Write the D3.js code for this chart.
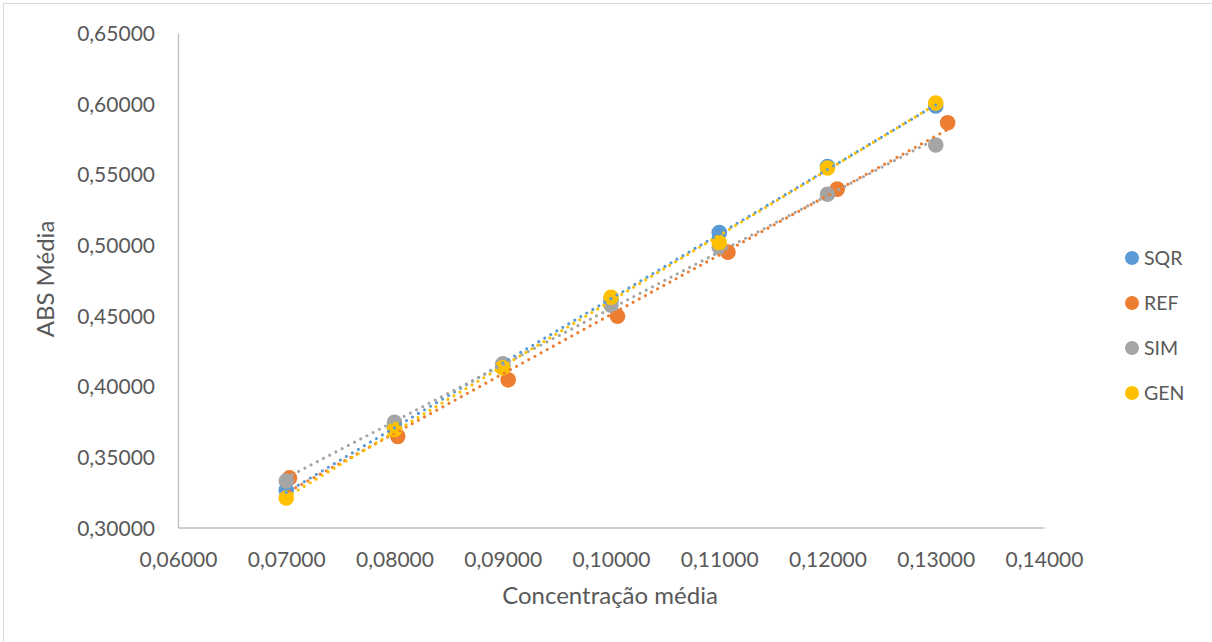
<!DOCTYPE html>
<html>
<head>
<meta charset="utf-8">
<script src="https://cdn.jsdelivr.net/npm/d3@7"></script>
<style>
  html, body { margin: 0; padding: 0; background: #fff; }
  svg { display: block; }
  text { font-family: Lato, "Open Sans", sans-serif; fill: #595959; }
</style>
</head>
<body>
<svg id="chart" width="1212" height="642"></svg>
<script>
const seriesNames = ["SQR", "REF", "SIM", "GEN"];
const seriesColors = ["#5B9BD5", "#ED7D31", "#A5A5A5", "#FFC000"];
const xSQR = [0.07, 0.08, 0.09, 0.10, 0.11, 0.12, 0.13];
const ySQR = [0.3266, 0.3705, 0.4140, 0.4605, 0.5087, 0.5555, 0.5983];
const xREF = [0.0703, 0.0803, 0.0905, 0.1006, 0.1108, 0.1209, 0.1311];
const yREF = [0.3351, 0.3645, 0.4045, 0.4495, 0.4949, 0.5395, 0.5865];
const xSIM = [0.07, 0.08, 0.09, 0.10, 0.11, 0.12, 0.13];
const ySIM = [0.3329, 0.3744, 0.4158, 0.4573, 0.4984, 0.5359, 0.5707];
const xGEN = [0.07, 0.08, 0.09, 0.10, 0.11, 0.12, 0.13];
const yGEN = [0.3209, 0.3694, 0.4130, 0.4630, 0.5016, 0.5544, 0.6004];
const xTicks = [0.06, 0.07, 0.08, 0.09, 0.10, 0.11, 0.12, 0.13, 0.14];
const yTicks = [0.30, 0.35, 0.40, 0.45, 0.50, 0.55, 0.60, 0.65];
const xTitle = "Concentração média";
const yTitle = "ABS Média";

const series = [
  { name: seriesNames[0], color: seriesColors[0], xs: xSQR, ys: ySQR },
  { name: seriesNames[1], color: seriesColors[1], xs: xREF, ys: yREF },
  { name: seriesNames[2], color: seriesColors[2], xs: xSIM, ys: ySIM },
  { name: seriesNames[3], color: seriesColors[3], xs: xGEN, ys: yGEN }
];

const svg = d3.select("#chart");
const fmt = v => d3.format(".5f")(v).replace(".", ",");

// outer border
svg.append("rect").attr("x", 3.5).attr("y", 3.5).attr("width", 1220).attr("height", 650)
  .attr("fill", "#fff").attr("stroke", "#D9D9D9").attr("stroke-width", 1);

const x = d3.scaleLinear().domain([0.06, 0.14]).range([178, 1044]);
const y = d3.scaleLinear().domain([0.30, 0.65]).range([527.5, 33]);

// axes
const xAxis = svg.append("g").attr("transform", "translate(0,527.5)")
  .call(d3.axisBottom(x).tickValues(xTicks).tickSize(0).tickFormat(fmt));
xAxis.select(".domain").attr("stroke", "#BFBFBF").attr("stroke-width", 1.3);
xAxis.selectAll("text").attr("dy", null).attr("y", 39.5).attr("font-size", "21px")
  .style("font-family", "Lato").attr("fill", "#595959");

const yAxis = svg.append("g").attr("transform", "translate(178,0)")
  .call(d3.axisLeft(y).tickValues(yTicks).tickSize(0).tickFormat(fmt));
yAxis.select(".domain").attr("stroke", "#BFBFBF").attr("stroke-width", 1.3);
yAxis.selectAll("text").attr("x", -23).attr("dy", "0.36em").attr("font-size", "21px")
  .style("font-family", "Lato").attr("fill", "#595959");

// markers
series.forEach(s => {
  svg.append("g").selectAll("circle")
    .data(s.xs.map((v, i) => [v, s.ys[i]]))
    .join("circle")
    .attr("cx", d => x(d[0]))
    .attr("cy", d => y(d[1]))
    .attr("r", 7.8)
    .attr("fill", s.color);
});

// linear trendlines
series.forEach(s => {
  const n = s.xs.length;
  const mx = d3.mean(s.xs), my = d3.mean(s.ys);
  let sxy = 0, sxx = 0;
  for (let i = 0; i < n; i++) { sxy += (s.xs[i] - mx) * (s.ys[i] - my); sxx += (s.xs[i] - mx) ** 2; }
  const b = sxy / sxx, a = my - b * mx;
  const x0 = d3.min(s.xs), x1 = d3.max(s.xs);
  svg.append("line")
    .attr("x1", x(x0)).attr("y1", y(a + b * x0))
    .attr("x2", x(x1)).attr("y2", y(a + b * x1))
    .attr("stroke", s.color).attr("stroke-width", 3.2)
    .attr("stroke-linecap", "round").attr("stroke-dasharray", "0 7");
});

// axis titles
svg.append("text").attr("x", 610).attr("y", 604).attr("text-anchor", "middle")
  .attr("font-size", "24px").text(xTitle);
svg.append("text").attr("transform", "translate(54,279) rotate(-90)")
  .attr("text-anchor", "middle").attr("font-size", "24px").text(yTitle);

// legend
const legendY = [258, 303, 348, 393];
const lg = svg.append("g");
series.forEach((s, i) => {
  lg.append("circle").attr("cx", 1132).attr("cy", legendY[i]).attr("r", 7).attr("fill", s.color);
  lg.append("text").attr("x", 1144).attr("y", legendY[i]).attr("dy", "0.36em")
    .attr("font-size", "19.5px").text(s.name);
});
</script>
</body>
</html>
